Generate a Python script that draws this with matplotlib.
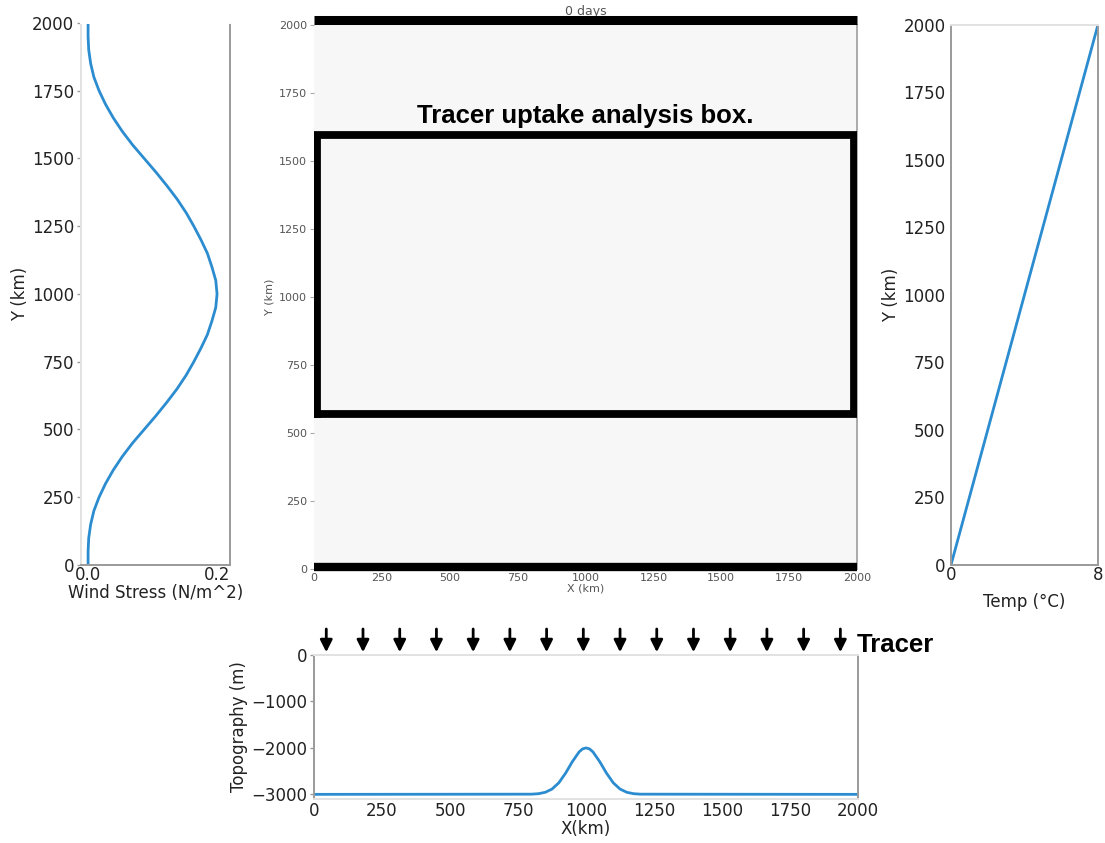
import numpy as np
import matplotlib
matplotlib.use("Agg")
import matplotlib.pyplot as plt

# wind stress profile (N/m^2) against Y (km)
wind_y = [0, 50, 100, 150, 200, 250, 300, 350, 400, 450, 500, 550, 600, 650,
          700, 750, 800, 850, 900, 950, 1000, 1050, 1100, 1150, 1200, 1250,
          1300, 1350, 1400, 1450, 1500, 1550, 1600, 1650, 1700, 1750, 1800,
          1850, 1900, 1950, 2000]
wind_tau = [0.000, 0.000, 0.001, 0.004, 0.009, 0.017, 0.027, 0.039, 0.053,
            0.069, 0.087, 0.105, 0.122, 0.138, 0.152, 0.164, 0.175, 0.185,
            0.192, 0.198, 0.200, 0.198, 0.192, 0.185, 0.175, 0.164, 0.152,
            0.138, 0.122, 0.105, 0.087, 0.069, 0.053, 0.039, 0.027, 0.017,
            0.009, 0.004, 0.001, 0.000, 0.000]

# surface temperature restoring profile
temp_y = [0, 2000]
temp_c = [0, 8]

# bottom topography along X
topo_x = [0, 800, 825, 850, 875, 900, 925, 950, 975, 987.5, 1000, 1012.5,
          1025, 1050, 1075, 1100, 1125, 1150, 1175, 1200, 2000]
topo_z = [-3000, -2996, -2986, -2956, -2886, -2751, -2542, -2293, -2083,
          -2021, -2000, -2021, -2083, -2293, -2542, -2751, -2886, -2956,
          -2986, -2996, -3000]

# tracer input positions along the surface
tracer_x = [45, 180, 315, 450, 585, 720, 855, 990, 1125, 1260, 1395, 1530,
            1665, 1800, 1935]

# analysis box corners (km)
box_x = [10, 1990]
box_y = [570, 1595]

blue = "#2b8cd0"
spine_c = "#9a9a9a"
light_c = "#e2e2e2"
bold_font = "Liberation Sans"

plt.rcParams.update({
    "font.family": "DejaVu Sans",
    "font.size": 12,
    "axes.linewidth": 1.4,
    "xtick.color": "#333333",
    "ytick.color": "#333333",
    "xtick.labelcolor": "#222222",
    "ytick.labelcolor": "#222222",
    "axes.labelcolor": "#222222",
})

fig = plt.figure(figsize=(11.05, 8.43), dpi=100)

# --- wind stress ---
ax_w = fig.add_axes([0.0733, 0.3298, 0.1348, 0.6430])
ax_w.plot(wind_tau, wind_y, color=blue, lw=2)
ax_w.set_xlim(-0.011, 0.220)
ax_w.set_ylim(0, 2000)
ax_w.set_xticks([0.0, 0.2])
ax_w.set_xticklabels(["0.0", "0.2"])
ax_w.set_yticks([0, 250, 500, 750, 1000, 1250, 1500, 1750, 2000])
ax_w.set_xlabel("Wind Stress (N/m^2)", labelpad=0)
ax_w.set_ylabel("Y (km)", labelpad=2)
ax_w.tick_params(axis="x", length=0, pad=1)
ax_w.tick_params(axis="y", length=3, width=1, color=spine_c, pad=2)
ax_w.spines["left"].set_color(light_c)
ax_w.spines["top"].set_color("white")
ax_w.spines["bottom"].set_color(spine_c)
ax_w.spines["right"].set_color(spine_c)

# --- tracer domain at day 0 ---
ax_m = fig.add_axes([0.2842, 0.3250, 0.4914, 0.6453])
ax_m.set_facecolor("#f7f7f7")
ax_m.set_xlim(0, 2000)
ax_m.set_ylim(0, 2000)
ax_m.set_xticks(np.arange(0, 2001, 250))
ax_m.set_yticks(np.arange(0, 2001, 250))
ax_m.tick_params(labelsize=8, length=3, width=0.8, color="#aaaaaa",
                 labelcolor="#555555", pad=2)
ax_m.tick_params(axis="x", length=0, pad=3)
ax_m.set_xlabel("X (km)", fontsize=8, color="#555555", labelpad=0)
ax_m.set_ylabel("Y (km)", fontsize=8, color="#555555", labelpad=3)
ax_m.set_title("0 days", fontsize=9, color="#555555", pad=7)
for s in ["left", "top", "bottom"]:
    ax_m.spines[s].set_visible(False)
ax_m.spines["right"].set_color("#aaaaaa")
ax_m.plot([0, 2000], [2020, 2020], color="black", lw=6.5,
          solid_capstyle="butt", clip_on=False, zorder=5)
ax_m.plot([0, 2000], [8, 8], color="black", lw=6, solid_capstyle="butt",
          clip_on=False, zorder=5)
ax_m.plot([box_x[0], box_x[1], box_x[1], box_x[0], box_x[0]],
          [box_y[0], box_y[0], box_y[1], box_y[1], box_y[0]],
          color="black", lw=5.6, solid_joinstyle="miter", zorder=5)
ax_m.text(1000, 1622, "Tracer uptake analysis box.", ha="center",
          va="bottom", fontsize=18.5, fontweight="bold", family=bold_font)

# --- temperature ---
ax_t = fig.add_axes([0.8606, 0.3298, 0.1330, 0.6406])
ax_t.plot(temp_c, temp_y, color=blue, lw=2)
ax_t.set_xlim(0, 8)
ax_t.set_ylim(0, 2000)
ax_t.set_xticks([0, 8])
ax_t.set_yticks([0, 250, 500, 750, 1000, 1250, 1500, 1750, 2000])
ax_t.set_xlabel("Temp (°C)", labelpad=6)
ax_t.set_ylabel("Y (km)", labelpad=2)
ax_t.tick_params(axis="x", length=0, pad=1)
ax_t.tick_params(axis="y", length=0, pad=4)
ax_t.spines["left"].set_color(spine_c)
ax_t.spines["top"].set_color(light_c)
ax_t.spines["bottom"].set_color(spine_c)
ax_t.spines["right"].set_color(spine_c)

# --- topography ---
ax_b = fig.add_axes([0.2842, 0.0522, 0.4923, 0.1708])
ax_b.plot(topo_x, topo_z, color=blue, lw=2)
ax_b.set_xlim(0, 2000)
ax_b.set_ylim(-3100, 0)
ax_b.set_xticks(np.arange(0, 2001, 250))
ax_b.set_yticks([0, -1000, -2000, -3000])
ax_b.set_xlabel("X(km)", labelpad=0)
ax_b.set_ylabel("Topography (m)", labelpad=2)
ax_b.tick_params(axis="x", length=0, pad=2)
ax_b.tick_params(axis="y", length=3, width=1, color=spine_c, pad=2)
ax_b.spines["left"].set_color(spine_c)
ax_b.spines["top"].set_color(light_c)
ax_b.spines["bottom"].set_color(light_c)
ax_b.spines["right"].set_color(spine_c)

for x in tracer_x:
    ax_b.annotate("", xy=(x, 60), xytext=(x, 560),
                  arrowprops=dict(arrowstyle="-|>", color="black", lw=2,
                                  mutation_scale=18, shrinkA=0, shrinkB=0),
                  annotation_clip=False)
ax_b.text(1995, 220, "Tracer", ha="left", va="center", fontsize=18.5,
          fontweight="bold", family=bold_font)

fig.savefig("out.png", dpi=100)
